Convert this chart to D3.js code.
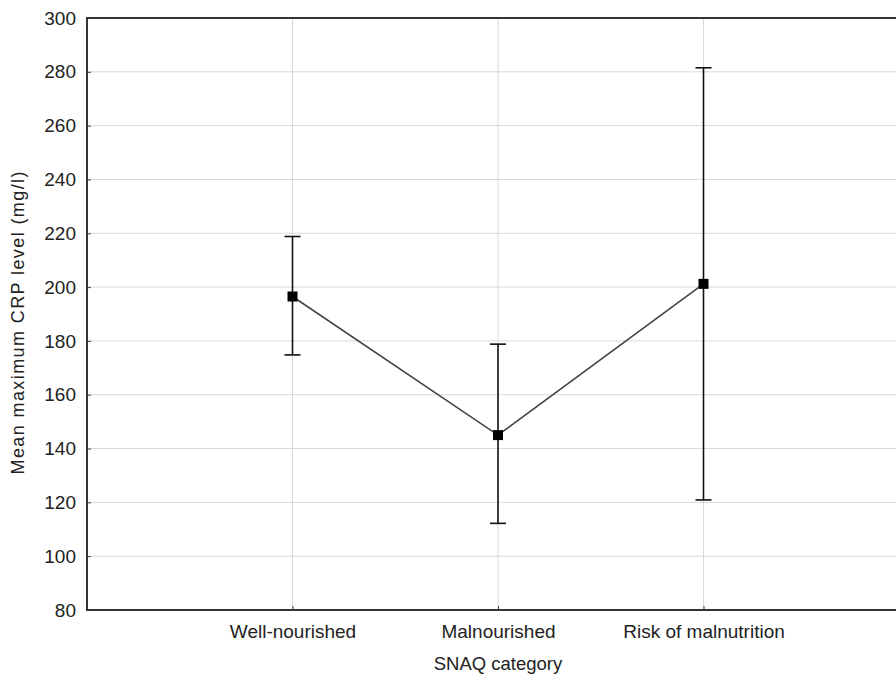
<!DOCTYPE html>
<html>
<head>
<meta charset="utf-8">
<script src="https://cdn.jsdelivr.net/npm/d3@7"></script>
<style>
  body { margin: 0; background: #fff; }
  svg text { font-family: 'Liberation Sans', Arial, sans-serif; fill: #222; }
</style>
</head>
<body>
<svg id="chart" width="896" height="677"></svg>
<script>
const categories = ['Well-nourished', 'Malnourished', 'Risk of malnutrition'];
const means = [196.5, 145, 201.2];
const upper = [218.8, 178.8, 281.5];
const lower = [174.8, 112.2, 120.9];
const yTicks = [80, 100, 120, 140, 160, 180, 200, 220, 240, 260, 280, 300];

const data = categories.map((c, i) => ({ cat: c, idx: i + 1, mean: means[i], hi: upper[i], lo: lower[i] }));

const margin = { top: 18, left: 87, bottom: 610 };
const chart = d3.select('#chart');

// x runs past the right edge of the picture, like the original screenshot
const xScale = d3.scaleLinear().domain([0, 4]).range([margin.left, 909]);
const yScale = d3.scaleLinear().domain([80, 300]).range([margin.bottom, margin.top]);

// grid
chart.append('g').attr('class', 'grid')
  .selectAll('line')
  .data(yTicks.slice(1, -1))
  .join('line')
  .attr('x1', margin.left).attr('x2', 909)
  .attr('y1', (d) => yScale(d)).attr('y2', (d) => yScale(d))
  .attr('stroke', '#d9d9d9').attr('stroke-width', 1);

chart.append('g').attr('class', 'grid')
  .selectAll('line')
  .data(data)
  .join('line')
  .attr('x1', (d) => xScale(d.idx)).attr('x2', (d) => xScale(d.idx))
  .attr('y1', margin.top).attr('y2', margin.bottom)
  .attr('stroke', '#d9d9d9').attr('stroke-width', 1);

// axes (inward ticks)
const yAxis = (g) => g.attr('transform', `translate(${margin.left},0)`)
  .call(d3.axisLeft(yScale).tickValues(yTicks).tickSize(-4).tickPadding(11));
const xAxis = (g) => g.attr('transform', `translate(0,${margin.bottom})`)
  .call(d3.axisBottom(xScale).tickValues([1, 2, 3]).tickSize(-4).tickPadding(15)
    .tickFormat((d) => categories[d - 1]));

chart.append('g').attr('class', 'y-axis axis').call(yAxis);
chart.append('g').attr('class', 'x-axis axis').call(xAxis);

chart.selectAll('.axis .domain').remove();
chart.selectAll('.axis .tick line').attr('stroke', '#444');
chart.selectAll('.axis text').attr('font-size', 19).attr('fill', '#222')
  .style('font-family', "'Liberation Sans', Arial, sans-serif");

// frame: left, top, bottom
chart.append('path')
  .attr('d', `M909,${margin.top}H${margin.left}V${margin.bottom}H909`)
  .attr('fill', 'none').attr('stroke', '#333').attr('stroke-width', 2);

// mean line
const line = d3.line().x((d) => xScale(d.idx)).y((d) => yScale(d.mean));
chart.append('path').datum(data)
  .attr('d', line)
  .attr('fill', 'none').attr('stroke', '#444').attr('stroke-width', 1.6);

// error bars
const bars = chart.append('g').attr('class', 'errbars').selectAll('g').data(data).join('g');
bars.append('line')
  .attr('x1', (d) => xScale(d.idx)).attr('x2', (d) => xScale(d.idx))
  .attr('y1', (d) => yScale(d.lo)).attr('y2', (d) => yScale(d.hi))
  .attr('stroke', '#111').attr('stroke-width', 1.6);
['lo', 'hi'].forEach((k) => {
  bars.append('line')
    .attr('x1', (d) => xScale(d.idx) - 8).attr('x2', (d) => xScale(d.idx) + 8)
    .attr('y1', (d) => yScale(d[k])).attr('y2', (d) => yScale(d[k]))
    .attr('stroke', '#111').attr('stroke-width', 1.6);
});

// markers
chart.append('g').selectAll('rect').data(data).join('rect')
  .attr('x', (d) => xScale(d.idx) - 5).attr('y', (d) => yScale(d.mean) - 5)
  .attr('width', 10).attr('height', 10).attr('fill', '#000');

// labels
chart.append('text')
  .attr('x', xScale(2)).attr('y', 670)
  .attr('text-anchor', 'middle').attr('font-size', 18.5)
  .text('SNAQ category');

chart.append('text')
  .attr('transform', `translate(24,323) rotate(-90)`)
  .attr('text-anchor', 'middle').attr('font-size', 18)
  .attr('textLength', 303).attr('lengthAdjust', 'spacing')
  .text('Mean maximum CRP level (mg/l)');
</script>
</body>
</html>
